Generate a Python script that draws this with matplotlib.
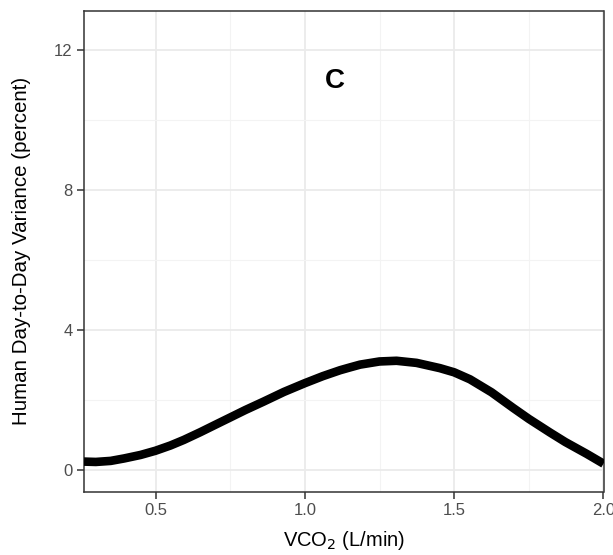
import matplotlib
matplotlib.use("Agg")
import matplotlib.pyplot as plt
from matplotlib.ticker import MultipleLocator

plt.rcParams['font.family'] = ['Liberation Sans', 'DejaVu Sans']

vco2 = [0.2606, 0.30, 0.35, 0.395, 0.45, 0.50, 0.55, 0.595, 0.65, 0.707, 0.75, 0.80,
        0.861, 0.93, 1.0, 1.06, 1.118, 1.151, 1.185, 1.25, 1.307, 1.374, 1.452,
        1.5, 1.553, 1.625, 1.698, 1.75, 1.821, 1.872, 1.944, 2.0]
variance = [0.24, 0.23, 0.26, 0.33, 0.43, 0.55, 0.70, 0.86, 1.08, 1.32, 1.50, 1.71,
            1.95, 2.23, 2.48, 2.68, 2.85, 2.93, 3.01, 3.10, 3.12, 3.06, 2.91,
            2.79, 2.59, 2.22, 1.77, 1.46, 1.07, 0.80, 0.46, 0.18]

xticks = [0.5, 1.0, 1.5, 2.0]
yticks = [0, 4, 8, 12]
panel_label = "C"

W, H = 613, 555
fig = plt.figure(figsize=(W / 100, H / 100), dpi=100)
left, right, top, bottom = 84, 603.5, 10.7, 491.7
ax = fig.add_axes([left / W, 1 - bottom / H, (right - left) / W, (bottom - top) / H])

ax.plot(vco2, variance, color="black", lw=6.2, solid_capstyle="butt",
        solid_joinstyle="round", zorder=3, clip_on=True)

ax.set_xlim(0.2606, 2.0)
ax.set_ylim(-0.62, 13.12)
ax.set_xticks(xticks)
ax.set_xticklabels([f"{t:.1f}" for t in xticks])
ax.set_yticks(yticks)
ax.set_yticklabels([str(t) for t in yticks])
ax.xaxis.set_minor_locator(MultipleLocator(0.25))
ax.yaxis.set_minor_locator(MultipleLocator(2))

ax.grid(which="major", color="#EBEBEB", lw=1.3, zorder=0)
ax.grid(which="minor", color="#F3F3F3", lw=0.8, zorder=0)
ax.set_axisbelow(True)
ax.tick_params(which="minor", length=0)
ax.tick_params(which="major", length=4.7, width=1.1, color="#333333",
               labelcolor="#4D4D4D", labelsize=12, pad=3.5)
for s in ax.spines.values():
    s.set_color("#333333")
    s.set_linewidth(1.1)

fig.text(344 / W, 1 - 541 / H, "VCO$_2$ (L/min)", fontsize=14.5, color="black",
         ha="center", va="center")
fig.text(22 / W, 1 - 251 / H, "Human Day-to-Day Variance (percent)", fontsize=14.8,
         color="black", rotation=90, ha="center", va="center")

ax.text(1.101, 11.12, panel_label, fontsize=20, fontweight="bold",
        ha="center", va="center")

fig.savefig("out.png", dpi=100)
